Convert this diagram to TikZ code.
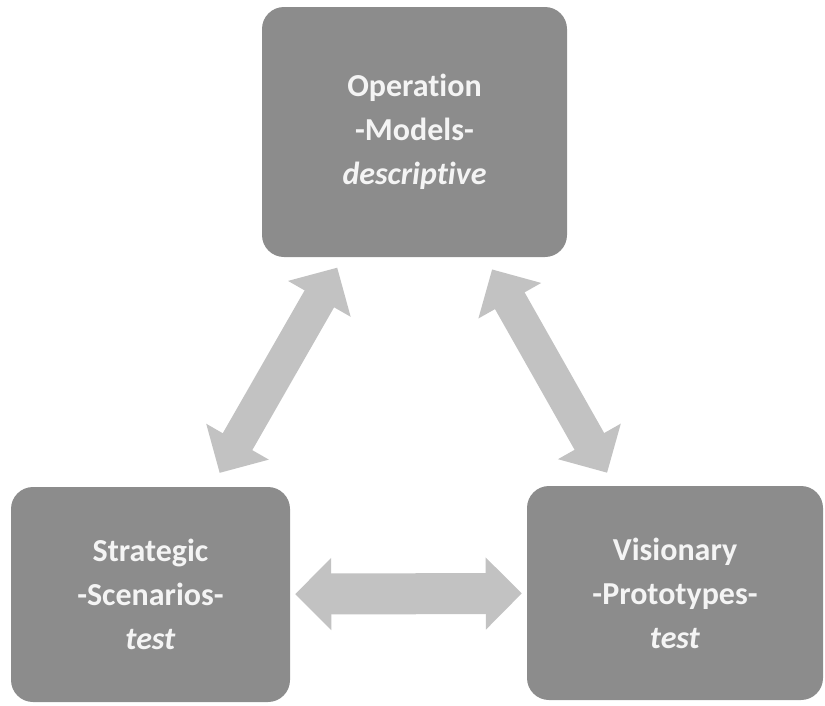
\documentclass[tikz,border=0pt]{standalone}
\usepackage{fontspec}
\setmainfont{Carlito}[Ligatures=NoCommon]
\usepackage{xcolor}
\usepackage{tikz}
\usetikzlibrary{arrows.meta}
\definecolor{boxgray}{HTML}{8C8C8C}
\definecolor{arrowgray}{HTML}{C2C2C2}
\definecolor{labelwhite}{HTML}{F4F4F4}

\begin{document}
\begin{tikzpicture}[x=1pt, y=-1pt,
        box/.style={rectangle, rounded corners=22pt, fill=boxgray, text=labelwhite,
            align=center, inner sep=0pt, font=\fontsize{32}{44}\selectfont\bfseries},
        link/.style={arrowgray, line width=34pt,
            {Triangle[width=70pt, length=36pt]}-{Triangle[width=70pt, length=36pt]}}
    ]
        \useasboundingbox (0,0) rectangle (825,705);

        % Define the nodes
        \node[box, minimum width=305pt, minimum height=250pt] (op) at (414.5,132)
            {\raisebox{10pt}{\begin{tabular}{c}Operation\\-Models-\\\textit{descriptive}\end{tabular}}};
        \node[box, minimum width=279pt, minimum height=215pt] (st) at (150.5,594.5)
            {Strategic\\-Scenarios-\\\textit{test}};
        \node[box, minimum width=296pt, minimum height=214pt] (vi) at (675,593)
            {Visionary\\-Prototypes-\\\textit{test}};

        % Draw the arrows
        \draw[link, shorten <=12pt, shorten >=16pt] (op) -- (st);
        \draw[link, shorten <=14pt, shorten >=15pt] (op) -- (vi);
        \draw[link, line width=41pt, shorten <=5pt, shorten >=5pt] (st) -- (vi);
    \end{tikzpicture}
\end{document}
